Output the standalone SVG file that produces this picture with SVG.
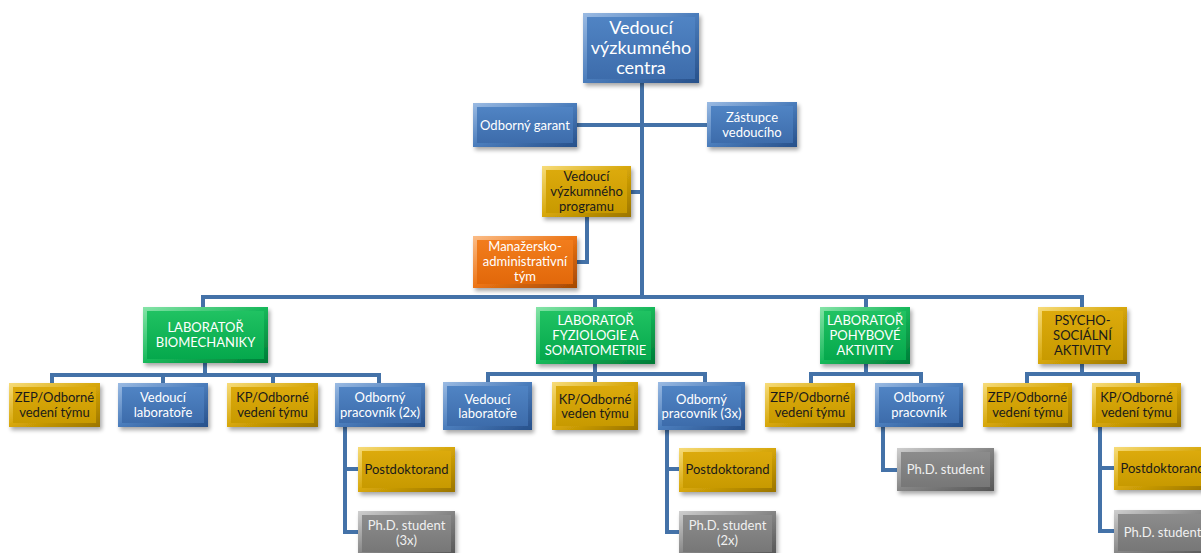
<svg xmlns="http://www.w3.org/2000/svg" width="1201" height="553" viewBox="0 0 1201 553">
<defs>
<filter id="sh" x="-20%" y="-20%" width="140%" height="150%">
<feGaussianBlur in="SourceAlpha" stdDeviation="2"/>
<feOffset dx="2" dy="3" result="o"/>
<feComponentTransfer><feFuncA type="linear" slope="0.35"/></feComponentTransfer>
<feMerge><feMergeNode/><feMergeNode in="SourceGraphic"/></feMerge>
</filter>
<linearGradient id="bB" x1="0" y1="0" x2="1" y2="1"><stop offset="0" stop-color="#9bbbe3"/><stop offset="0.5" stop-color="#4a7cbb"/><stop offset="1" stop-color="#27508a"/></linearGradient>
<linearGradient id="bI" x1="0" y1="0" x2="0" y2="1"><stop offset="0" stop-color="#5084c4"/><stop offset="1" stop-color="#3d6cab"/></linearGradient>
<linearGradient id="gB" x1="0" y1="0" x2="1" y2="1"><stop offset="0" stop-color="#f7dc7a"/><stop offset="0.5" stop-color="#d6a608"/><stop offset="1" stop-color="#9a7400"/></linearGradient>
<linearGradient id="gI" x1="0" y1="0" x2="0" y2="1"><stop offset="0" stop-color="#dcaa0c"/><stop offset="1" stop-color="#c89a00"/></linearGradient>
<linearGradient id="eB" x1="0" y1="0" x2="1" y2="1"><stop offset="0" stop-color="#86e4a8"/><stop offset="0.5" stop-color="#16b85a"/><stop offset="1" stop-color="#007a36"/></linearGradient>
<linearGradient id="eI" x1="0" y1="0" x2="0" y2="1"><stop offset="0" stop-color="#20c262"/><stop offset="1" stop-color="#05a84c"/></linearGradient>
<linearGradient id="oB" x1="0" y1="0" x2="1" y2="1"><stop offset="0" stop-color="#fbbd88"/><stop offset="0.5" stop-color="#ec7414"/><stop offset="1" stop-color="#a34804"/></linearGradient>
<linearGradient id="oI" x1="0" y1="0" x2="0" y2="1"><stop offset="0" stop-color="#f27d1c"/><stop offset="1" stop-color="#e2680a"/></linearGradient>
<linearGradient id="rB" x1="0" y1="0" x2="1" y2="1"><stop offset="0" stop-color="#cfcfcf"/><stop offset="0.5" stop-color="#858585"/><stop offset="1" stop-color="#555555"/></linearGradient>
<linearGradient id="rI" x1="0" y1="0" x2="0" y2="1"><stop offset="0" stop-color="#8c8c8c"/><stop offset="1" stop-color="#777777"/></linearGradient>
</defs>
<style>
.ob{filter:url(#sh)}
.blue .ob{fill:url(#bB)} .blue .ib{fill:url(#bI)}
.gold .ob{fill:url(#gB)} .gold .ib{fill:url(#gI)}
.green .ob{fill:url(#eB)} .green .ib{fill:url(#eI)}
.orange .ob{fill:url(#oB)} .orange .ib{fill:url(#oI)}
.grey .ob{fill:url(#rB)} .grey .ib{fill:url(#rI)}
text{font-family:Lato,"Liberation Sans",sans-serif;font-size:13px;text-anchor:middle;fill:#ffffff}
.gold text{fill:#1a1a1a}
.grey text{fill:#f0f0f0}
.big{font-size:18px}
#conn path{fill:none;stroke:#4472a8;stroke-width:4;stroke-linejoin:miter}
</style>
<g id="conn">
<path d="M642 83V298"/>
<path d="M577 125H707"/>
<path d="M631 192H642"/>
<path d="M587 217V262H577"/>
<path d="M203 307V297H1082V307M595 297V307M866 297V307"/>
<path d="M205 363V375M52 383V375H379V383M163 375V383M273 375V383"/>
<path d="M345 427V532H358M345 469H358"/>
<path d="M595 364V374M488 382V374H705V382M595 374V382"/>
<path d="M667 430V532H679M667 469H679"/>
<path d="M866 364V374M811 383V374H921V383"/>
<path d="M883 427V470H897"/>
<path d="M1082 364V374M1027 383V374H1138V383"/>
<path d="M1100 427V531H1114M1100 468H1114"/>
</g>
<g id="n-top" class="blue"><rect class="ob" x="583" y="13" width="116" height="70"/><rect class="ib" x="587" y="17" width="108" height="62"/><text class="big"><tspan x="641" y="34">Vedoucí</tspan><tspan x="641" y="54">výzkumného</tspan><tspan x="641" y="74">centra</tspan></text></g>
<g id="n-garant" class="blue"><rect class="ob" x="473" y="103" width="104" height="44"/><rect class="ib" x="477" y="107" width="96" height="36"/><text x="525" y="129.5">Odborný garant</text></g>
<g id="n-zastupce" class="blue"><rect class="ob" x="707" y="102" width="90" height="45"/><rect class="ib" x="711" y="106" width="82" height="37"/><text><tspan x="752" y="122">Zástupce</tspan><tspan x="752" y="136.5">vedoucího</tspan></text></g>
<g id="n-vvp" class="gold"><rect class="ob" x="542" y="166" width="89" height="51"/><rect class="ib" x="546" y="170" width="81" height="43"/><text><tspan x="586.5" y="180.5">Vedoucí</tspan><tspan x="586.5" y="195.5">výzkumného</tspan><tspan x="586.5" y="210.5">programu</tspan></text></g>
<g id="n-manaz" class="orange"><rect class="ob" x="473" y="236" width="104" height="52"/><rect class="ib" x="477" y="240" width="96" height="44"/><text><tspan x="525" y="251">Manažersko-</tspan><tspan x="525" y="266">administrativní</tspan><tspan x="525" y="281">tým</tspan></text></g>
<g id="n-labbio" class="green"><rect class="ob" x="143" y="307" width="125" height="56"/><rect class="ib" x="147" y="311" width="117" height="48"/><text><tspan x="205.5" y="332">LABORATOŘ</tspan><tspan x="205.5" y="347">BIOMECHANIKY</tspan></text></g>
<g id="n-labfyz" class="green"><rect class="ob" x="536" y="307" width="119" height="57"/><rect class="ib" x="540" y="311" width="111" height="49"/><text><tspan x="595.5" y="325">LABORATOŘ</tspan><tspan x="595.5" y="340">FYZIOLOGIE A</tspan><tspan x="595.5" y="355">SOMATOMETRIE</tspan></text></g>
<g id="n-labpoh" class="green"><rect class="ob" x="820" y="307" width="90" height="57"/><rect class="ib" x="824" y="311" width="82" height="49"/><text><tspan x="865" y="325">LABORATOŘ</tspan><tspan x="865" y="340">POHYBOVÉ</tspan><tspan x="865" y="355">AKTIVITY</tspan></text></g>
<g id="n-psycho" class="gold"><rect class="ob" x="1038" y="307" width="89" height="57"/><rect class="ib" x="1042" y="311" width="81" height="49"/><text><tspan x="1082.5" y="325">PSYCHO-</tspan><tspan x="1082.5" y="340">SOCIÁLNÍ</tspan><tspan x="1082.5" y="355">AKTIVITY</tspan></text></g>
<g id="n-bio-zep" class="gold"><rect class="ob" x="9" y="383" width="91" height="44"/><rect class="ib" x="13" y="387" width="83" height="36"/><text><tspan x="54.5" y="402">ZEP/Odborné</tspan><tspan x="54.5" y="417">vedení týmu</tspan></text></g>
<g id="n-bio-vl" class="blue"><rect class="ob" x="118" y="383" width="90" height="44"/><rect class="ib" x="122" y="387" width="82" height="36"/><text><tspan x="163" y="402">Vedoucí</tspan><tspan x="163" y="417">laboratoře</tspan></text></g>
<g id="n-bio-kp" class="gold"><rect class="ob" x="227" y="383" width="91" height="44"/><rect class="ib" x="231" y="387" width="83" height="36"/><text><tspan x="272.5" y="402">KP/Odborné</tspan><tspan x="272.5" y="417">vedení týmu</tspan></text></g>
<g id="n-bio-op" class="blue"><rect class="ob" x="335" y="383" width="90" height="44"/><rect class="ib" x="339" y="387" width="82" height="36"/><text><tspan x="380" y="402">Odborný</tspan><tspan x="380" y="417">pracovník (2x)</tspan></text></g>
<g id="n-bio-pd" class="gold"><rect class="ob" x="358" y="447" width="97" height="45"/><rect class="ib" x="362" y="451" width="89" height="37"/><text x="406.5" y="474">Postdoktorand</text></g>
<g id="n-bio-phd" class="grey"><rect class="ob" x="358" y="511" width="97" height="45"/><rect class="ib" x="362" y="515" width="89" height="37"/><text><tspan x="406.5" y="529.5">Ph.D. student</tspan><tspan x="406.5" y="544.5">(3x)</tspan></text></g>
<g id="n-fyz-vl" class="blue"><rect class="ob" x="443" y="382" width="89" height="48"/><rect class="ib" x="447" y="386" width="81" height="40"/><text><tspan x="487.5" y="403.5">Vedoucí</tspan><tspan x="487.5" y="418">laboratoře</tspan></text></g>
<g id="n-fyz-kp" class="gold"><rect class="ob" x="552" y="382" width="86" height="48"/><rect class="ib" x="556" y="386" width="78" height="40"/><text><tspan x="595" y="403.5">KP/Odborné</tspan><tspan x="595" y="418">veden týmu</tspan></text></g>
<g id="n-fyz-op" class="blue"><rect class="ob" x="658" y="382" width="87" height="48"/><rect class="ib" x="662" y="386" width="79" height="40"/><text><tspan x="701.5" y="403.5">Odborný</tspan><tspan x="701.5" y="418">pracovník (3x)</tspan></text></g>
<g id="n-fyz-pd" class="gold"><rect class="ob" x="679" y="448" width="97" height="44"/><rect class="ib" x="683" y="452" width="89" height="36"/><text x="727.5" y="474">Postdoktorand</text></g>
<g id="n-fyz-phd" class="grey"><rect class="ob" x="679" y="511" width="97" height="45"/><rect class="ib" x="683" y="515" width="89" height="37"/><text><tspan x="727.5" y="529.5">Ph.D. student</tspan><tspan x="727.5" y="544.5">(2x)</tspan></text></g>
<g id="n-poh-zep" class="gold"><rect class="ob" x="765" y="383" width="90" height="44"/><rect class="ib" x="769" y="387" width="82" height="36"/><text><tspan x="810" y="402">ZEP/Odborné</tspan><tspan x="810" y="417">vedení týmu</tspan></text></g>
<g id="n-poh-op" class="blue"><rect class="ob" x="875" y="383" width="88" height="44"/><rect class="ib" x="879" y="387" width="80" height="36"/><text><tspan x="919" y="402">Odborný</tspan><tspan x="919" y="417">pracovník</tspan></text></g>
<g id="n-poh-phd" class="grey"><rect class="ob" x="897" y="448" width="97" height="43"/><rect class="ib" x="901" y="452" width="89" height="35"/><text x="945.5" y="474">Ph.D. student</text></g>
<g id="n-psy-zep" class="gold"><rect class="ob" x="983" y="383" width="89" height="44"/><rect class="ib" x="987" y="387" width="81" height="36"/><text><tspan x="1027.5" y="402">ZEP/Odborné</tspan><tspan x="1027.5" y="417">vedení týmu</tspan></text></g>
<g id="n-psy-kp" class="gold"><rect class="ob" x="1092" y="383" width="89" height="44"/><rect class="ib" x="1096" y="387" width="81" height="36"/><text><tspan x="1136.5" y="402">KP/Odborné</tspan><tspan x="1136.5" y="417">vedení týmu</tspan></text></g>
<g id="n-psy-pd" class="gold"><rect class="ob" x="1114" y="447" width="97" height="43"/><rect class="ib" x="1118" y="451" width="89" height="35"/><text x="1162.5" y="473">Postdoktorand</text></g>
<g id="n-psy-phd" class="grey"><rect class="ob" x="1114" y="510" width="97" height="45"/><rect class="ib" x="1118" y="514" width="89" height="37"/><text x="1162.5" y="536.5">Ph.D. student</text></g>
</svg>
